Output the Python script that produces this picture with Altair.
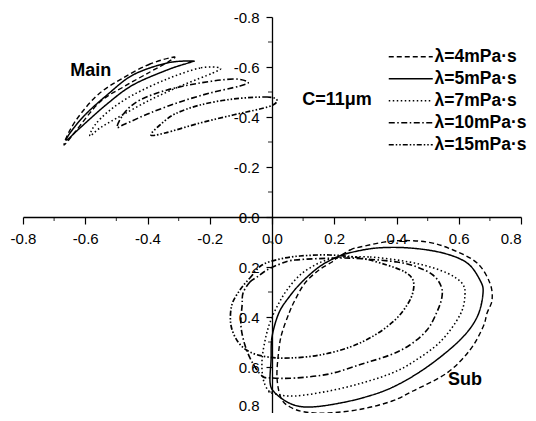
import altair as alt
import pandas as pd

series = ["λ=4mPa·s", "λ=5mPa·s", "λ=7mPa·s", "λ=10mPa·s", "λ=15mPa·s"]
dashes = [[5, 3], [1, 0], [1.5, 2.5], [6, 2.5, 1.5, 2.5], [5, 2, 1.5, 2, 1.5, 2]]
widths = [1.4, 1.7, 1.4, 1.4, 1.4]

# ---- "Main" loops (x, y) ----
main4_x = [-0.315, -0.392, -0.479, -0.553, -0.610, -0.649, -0.668, -0.633, -0.553, -0.472, -0.392, -0.334]
main4_y = [-0.640, -0.612, -0.556, -0.496, -0.420, -0.348, -0.288, -0.340, -0.460, -0.524, -0.580, -0.620]
main5_x = [-0.254, -0.337, -0.447, -0.530, -0.601, -0.649, -0.659, -0.617, -0.530, -0.447, -0.337, -0.270]
main5_y = [-0.624, -0.616, -0.568, -0.488, -0.408, -0.336, -0.308, -0.356, -0.452, -0.528, -0.588, -0.616]
main7_x = [-0.167, -0.231, -0.337, -0.447, -0.520, -0.569, -0.585, -0.553, -0.498, -0.392, -0.286, -0.190]
main7_y = [-0.596, -0.596, -0.552, -0.488, -0.428, -0.368, -0.324, -0.356, -0.396, -0.468, -0.528, -0.576]
main10_x = [-0.077, -0.125, -0.231, -0.337, -0.424, -0.472, -0.498, -0.472, -0.392, -0.296, -0.199, -0.103]
main10_y = [-0.540, -0.552, -0.536, -0.508, -0.468, -0.420, -0.360, -0.372, -0.416, -0.460, -0.496, -0.524]
main15_x = [0.016, -0.016, -0.125, -0.231, -0.312, -0.360, -0.389, -0.344, -0.231, -0.125, -0.039, 0.003]
main15_y = [-0.468, -0.480, -0.472, -0.448, -0.412, -0.368, -0.328, -0.336, -0.376, -0.408, -0.432, -0.448]

# ---- "Sub" loops (x, y) ----
sub4_x = [0.209, 0.251, 0.283, 0.389, 0.498, 0.582, 0.659, 0.700, 0.707, 0.691, 0.678, 0.636, 0.562, 0.453,
          0.386, 0.289, 0.183, 0.106, 0.058, 0.029, 0.016, 0.022, 0.032, 0.055, 0.074, 0.106, 0.151, 0.193]
sub4_y = [0.164, 0.132, 0.120, 0.096, 0.100, 0.132, 0.184, 0.264, 0.332, 0.384, 0.440, 0.532, 0.624, 0.696,
          0.736, 0.768, 0.784, 0.780, 0.760, 0.724, 0.640, 0.532, 0.464, 0.384, 0.332, 0.264, 0.212, 0.180]
sub5_x = [0.202, 0.247, 0.337, 0.443, 0.549, 0.627, 0.668, 0.678, 0.659, 0.604, 0.498, 0.389,
          0.289, 0.183, 0.106, 0.055, 0.010, -0.006, -0.003, 0.000, 0.022, 0.055, 0.096, 0.151]
sub5_y = [0.164, 0.144, 0.124, 0.124, 0.144, 0.184, 0.252, 0.304, 0.400, 0.492, 0.600, 0.680,
          0.724, 0.752, 0.760, 0.744, 0.704, 0.664, 0.572, 0.480, 0.384, 0.320, 0.260, 0.200]
sub7_x = [0.235, 0.315, 0.402, 0.485, 0.562, 0.610, 0.620, 0.604, 0.540, 0.453, 0.386, 0.289, 0.183,
          0.074, 0.010, -0.013, -0.029, -0.032, -0.022, -0.006, 0.019, 0.048, 0.090, 0.138, 0.186]
sub7_y = [0.160, 0.160, 0.172, 0.192, 0.224, 0.264, 0.312, 0.392, 0.500, 0.580, 0.624, 0.664, 0.696,
          0.716, 0.708, 0.692, 0.644, 0.572, 0.492, 0.420, 0.352, 0.292, 0.232, 0.192, 0.168]
sub10_x = [-0.093, -0.071, -0.048, -0.016, 0.026, 0.074, 0.215, 0.299, 0.402, 0.466, 0.517, 0.543, 0.546,
           0.530, 0.498, 0.443, 0.379, 0.289, 0.183, 0.074, 0.000, -0.032, -0.064, -0.087, -0.100, -0.096]
sub10_y = [0.304, 0.260, 0.240, 0.212, 0.188, 0.172, 0.164, 0.168, 0.180, 0.200, 0.232, 0.276, 0.320,
           0.380, 0.452, 0.512, 0.552, 0.588, 0.628, 0.644, 0.644, 0.636, 0.580, 0.512, 0.432, 0.352]
sub15_x = [-0.103, -0.071, -0.032, 0.026, 0.090, 0.186, 0.283, 0.369, 0.427, 0.453, 0.453, 0.434, 0.395,
           0.331, 0.251, 0.154, 0.058, -0.013, -0.071, -0.109, -0.132, -0.129]
sub15_y = [0.292, 0.244, 0.192, 0.168, 0.156, 0.152, 0.164, 0.192, 0.220, 0.252, 0.300, 0.352, 0.412,
           0.472, 0.520, 0.552, 0.564, 0.560, 0.540, 0.500, 0.432, 0.352]

major_ticks = [-0.8, -0.6, -0.4, -0.2, 0.0, 0.2, 0.4, 0.6, 0.8]
minor_ticks = [-0.7, -0.5, -0.3, -0.1, 0.1, 0.3, 0.5, 0.7]

note_text = ["Main", "C=11μm", "Sub"]
note_x = [-0.582, 0.209, 0.620]
note_y = [-0.584, -0.468, 0.652]

loops = [
    (series[0], main4_x, main4_y, sub4_x, sub4_y),
    (series[1], main5_x, main5_y, sub5_x, sub5_y),
    (series[2], main7_x, main7_y, sub7_x, sub7_y),
    (series[3], main10_x, main10_y, sub10_x, sub10_y),
    (series[4], main15_x, main15_y, sub15_x, sub15_y),
]
rows = []
for name, mx, my, sx, sy in loops:
    for part, xs, ys in (("main", mx, my), ("sub", sx, sy)):
        for i, (xv, yv) in enumerate(zip(xs, ys)):
            rows.append({"series": name, "loop": name + part, "order": i, "x": xv, "y": yv})
df = pd.DataFrame(rows)

FONT = "Liberation Sans"
xscale = alt.Scale(domain=[-0.8, 0.8], nice=False, zero=False)
yscale = alt.Scale(domain=[-0.8, 0.8], nice=False, zero=False, reverse=True)
label_expr = "datum.value < 0 ? '-' + format(-datum.value, '.1f') : format(datum.value, '.1f')"

xaxis = alt.Axis(orient="bottom", offset=-200, values=major_ticks, tickSize=7, tickWidth=1.2,
                 tickColor="black", domainColor="black", domainWidth=1.3, labelFont=FONT,
                 labelFontSize=15, labelColor="black", labelPadding=7, labelExpr=label_expr,
                 labelAlign=alt.condition("datum.value > 0.79", alt.value("right"), alt.value("center")),
                 title=None, grid=False, labelFlush=False, labelOverlap=False)
yaxis = alt.Axis(orient="left", offset=-249, values=major_ticks, tickSize=6, tickWidth=1.2,
                 tickColor="black", domainColor="black", domainWidth=1.3, labelFont=FONT,
                 labelFontSize=15, labelColor="black", labelPadding=7, labelExpr=label_expr,
                 labelLineHeight=22,
                 labelBaseline=alt.condition("datum.value > 0.79", alt.value("line-bottom"), alt.value("middle")),
                 title=None, grid=False, labelFlush=False, labelOverlap=False)

lines = alt.Chart(df).mark_line(interpolate="cardinal-closed", color="black").encode(
    x=alt.X("x:Q", scale=xscale, axis=xaxis),
    y=alt.Y("y:Q", scale=yscale, axis=yaxis),
    strokeDash=alt.StrokeDash(
        "series:N", scale=alt.Scale(domain=series, range=dashes),
        legend=alt.Legend(orient="none", legendX=379, legendY=31, title=None, symbolType="M-4,0H4",
                          symbolSize=121, symbolStrokeColor="black", symbolStrokeWidth=1.3,
                          symbolFillColor="transparent",
                          labelFont=FONT, labelFontSize=17.5, labelFontWeight="bold",
                          labelColor="black", rowPadding=3, padding=0, labelOffset=15)),
    strokeWidth=alt.StrokeWidth("series:N", scale=alt.Scale(domain=series, range=widths), legend=None),
    detail="loop:N",
    order="order:Q",
)

minor_df = pd.DataFrame({"v": minor_ticks})
xminor = alt.Chart(minor_df).mark_tick(orient="vertical", size=4, thickness=1.2, color="black", yOffset=2).encode(
    x=alt.X("v:Q", scale=xscale, axis=xaxis), y=alt.YDatum(0, type="quantitative", scale=yscale, axis=yaxis))
yminor = alt.Chart(minor_df).mark_tick(orient="horizontal", size=4, thickness=1.2, color="black", xOffset=-2).encode(
    y=alt.Y("v:Q", scale=yscale, axis=yaxis), x=alt.XDatum(0, type="quantitative", scale=xscale, axis=xaxis))

notes_df = pd.DataFrame({"t": note_text, "x": note_x, "y": note_y})
notes = alt.Chart(notes_df).mark_text(font=FONT, fontSize=18, fontWeight="bold", color="black").encode(
    x=alt.X("x:Q", scale=xscale, axis=xaxis), y=alt.Y("y:Q", scale=yscale, axis=yaxis), text="t:N")

chart = alt.layer(lines, xminor, yminor, notes).properties(
    width=498, height=400,
    padding={"left": 15, "top": 9, "right": 7, "bottom": -4},
    autosize=alt.AutoSizeParams(type="none"),
).configure_view(stroke=None)

chart.save("out.html", embed_options={"renderer": "svg", "actions": False})
